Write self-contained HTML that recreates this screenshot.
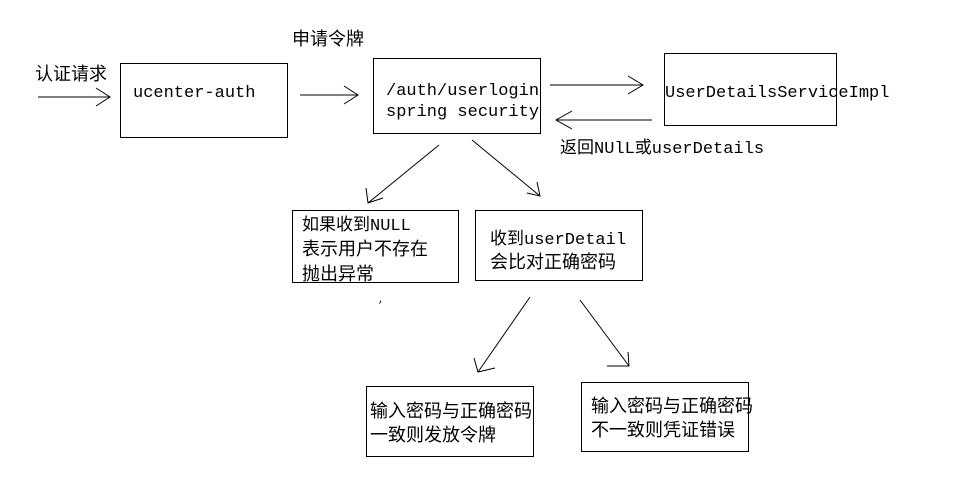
<!DOCTYPE html>
<html><head><meta charset="utf-8"><style>
html,body{margin:0;padding:0;background:#fff;}
svg{display:block;}
text{font-family:"Liberation Mono","Noto Sans CJK SC",monospace;font-size:17px;fill:#000;}
.c{font-size:18px;}
</style></head><body>
<svg width="953" height="492" viewBox="0 0 953 492" xmlns="http://www.w3.org/2000/svg">
<g fill="none" stroke="#000" stroke-width="1">
<rect x="120.5" y="63.5" width="167" height="74"/>
<rect x="373.5" y="58.5" width="167" height="75"/>
<rect x="664.5" y="53.5" width="172" height="72"/>
<rect x="292.5" y="210.5" width="166" height="72"/>
<rect x="475.5" y="210.5" width="167" height="70"/>
<rect x="366.5" y="386.5" width="167" height="70"/>
<rect x="581.5" y="382.5" width="167" height="69"/>
<path d="M38 97 H110 M96 88 L110 97 L96 106"/>
<path d="M300 95 H358 M344 86 L358 95 L344 104"/>
<path d="M550 85 H643 M628 76 L643 85 L628 94"/>
<path d="M652 120 H556 M572 111 L556 120 L572 129"/>
<path d="M439 145 L368 203 M366 188 L368 203 L383 198"/>
<path d="M472 140 L540 196 M537 182 L540 196 L527 193"/>
<path d="M530 297 L478 372 M474 358 L478 372 L495 368"/>
<path d="M580 300 L629 366 M628 352 L629 366 L607 366"/>
</g>
<text class="c" x="35" y="80">认证请求</text>
<text class="c" x="292" y="45">申请令牌</text>
<text x="133" y="97">ucenter-auth</text>
<text x="386" y="95">/auth/userlogin</text>
<text x="386" y="116">spring security</text>
<text x="665" y="97">UserDetailsServiceImpl</text>
<text x="560" y="153">返回NUlL或userDetails</text>
<text x="302" y="230">如果收到NULL</text>
<text class="c" x="302" y="255">表示用户不存在</text>
<text class="c" x="302" y="280">抛出异常</text>
<text x="490" y="244">收到userDetail</text>
<text class="c" x="490" y="268">会比对正确密码</text>
<text class="c" x="370" y="417">输入密码与正确密码</text>
<text class="c" x="370" y="441">一致则发放令牌</text>
<text class="c" x="591" y="412">输入密码与正确密码</text>
<text class="c" x="591" y="436">不一致则凭证错误</text>
<text x="378" y="302" style="font-size:10px">,</text>
</svg>
</body></html>
